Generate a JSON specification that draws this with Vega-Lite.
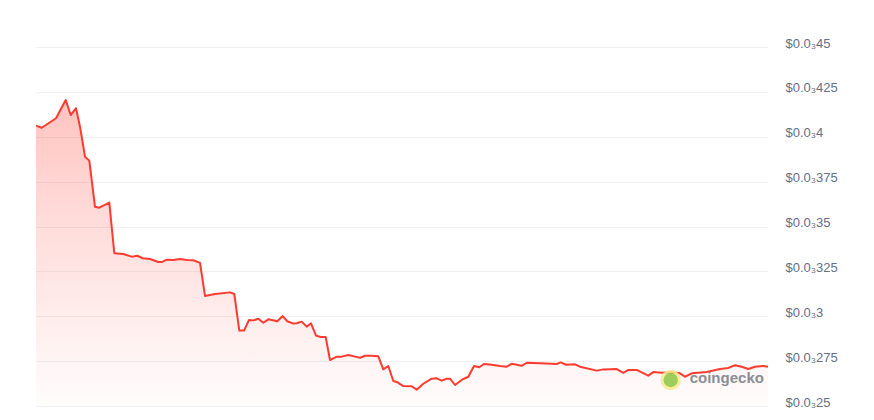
{
  "$schema": "https://vega.github.io/schema/vega-lite/v6.json",
  "width": 732,
  "height": 359,
  "autosize": {"type": "none"},
  "padding": {"left": 36, "top": 47, "right": 106, "bottom": 14},
  "background": "white",
  "config": {
    "view": {"stroke": null},
    "font": "Liberation Sans"
  },
  "datasets": {
    "price": [
      {"t": 0, "p": 0.0004062}, {"t": 5.7, "p": 0.000405}, {"t": 14, "p": 0.0004081},
      {"t": 20, "p": 0.0004103}, {"t": 29.7, "p": 0.0004205}, {"t": 34.7, "p": 0.0004121},
      {"t": 40, "p": 0.0004159}, {"t": 44, "p": 0.0004056}, {"t": 49, "p": 0.0003889},
      {"t": 53.3, "p": 0.0003867}, {"t": 59, "p": 0.000361}, {"t": 63.3, "p": 0.0003605},
      {"t": 73.3, "p": 0.0003633}, {"t": 78.3, "p": 0.0003351}, {"t": 87.3, "p": 0.0003347},
      {"t": 95.7, "p": 0.0003332}, {"t": 101.3, "p": 0.0003337}, {"t": 106.7, "p": 0.0003323},
      {"t": 114, "p": 0.0003319}, {"t": 122.3, "p": 0.0003302}, {"t": 125.7, "p": 0.0003302},
      {"t": 130.7, "p": 0.0003315}, {"t": 137.3, "p": 0.0003313}, {"t": 144, "p": 0.0003319},
      {"t": 150.7, "p": 0.0003313}, {"t": 157.3, "p": 0.0003312}, {"t": 164, "p": 0.0003297},
      {"t": 169, "p": 0.0003113}, {"t": 179, "p": 0.0003124}, {"t": 194, "p": 0.0003133},
      {"t": 198.3, "p": 0.0003124}, {"t": 203.3, "p": 0.000292}, {"t": 208, "p": 0.000292},
      {"t": 213, "p": 0.0002979}, {"t": 217.3, "p": 0.0002977}, {"t": 222.3, "p": 0.0002986},
      {"t": 227.3, "p": 0.0002964}, {"t": 232.3, "p": 0.0002983}, {"t": 241.3, "p": 0.0002972},
      {"t": 246.7, "p": 0.0003001}, {"t": 251.3, "p": 0.0002972}, {"t": 257.3, "p": 0.0002959},
      {"t": 260.7, "p": 0.0002961}, {"t": 265.7, "p": 0.000297}, {"t": 270.7, "p": 0.0002942},
      {"t": 275, "p": 0.0002961}, {"t": 280, "p": 0.0002892}, {"t": 284.7, "p": 0.0002884},
      {"t": 289.7, "p": 0.0002884}, {"t": 294, "p": 0.0002756}, {"t": 300.7, "p": 0.0002775},
      {"t": 305.7, "p": 0.0002775}, {"t": 312.3, "p": 0.0002784}, {"t": 319, "p": 0.0002775},
      {"t": 324, "p": 0.0002769}, {"t": 329, "p": 0.000278}, {"t": 335.7, "p": 0.000278},
      {"t": 342.3, "p": 0.0002777}, {"t": 347.3, "p": 0.0002704}, {"t": 352.3, "p": 0.0002723},
      {"t": 357.3, "p": 0.0002639}, {"t": 360.7, "p": 0.0002634}, {"t": 367.3, "p": 0.0002611},
      {"t": 375.7, "p": 0.000261}, {"t": 380.7, "p": 0.0002591}, {"t": 387.3, "p": 0.0002624},
      {"t": 395.7, "p": 0.0002652}, {"t": 400.7, "p": 0.0002654}, {"t": 405.7, "p": 0.0002641},
      {"t": 410.7, "p": 0.0002652}, {"t": 414, "p": 0.0002652}, {"t": 419, "p": 0.0002617},
      {"t": 425.7, "p": 0.0002645}, {"t": 432.3, "p": 0.0002663}, {"t": 438, "p": 0.0002723},
      {"t": 443.3, "p": 0.0002716}, {"t": 448, "p": 0.0002734}, {"t": 455.7, "p": 0.000273},
      {"t": 464, "p": 0.0002723}, {"t": 470.7, "p": 0.0002719}, {"t": 475.7, "p": 0.0002735},
      {"t": 485.7, "p": 0.0002724}, {"t": 490.7, "p": 0.0002741}, {"t": 504, "p": 0.0002738},
      {"t": 520.7, "p": 0.0002734}, {"t": 524.7, "p": 0.0002743}, {"t": 530, "p": 0.000273},
      {"t": 539, "p": 0.0002732}, {"t": 544, "p": 0.0002719}, {"t": 560.7, "p": 0.0002697},
      {"t": 567.3, "p": 0.0002704}, {"t": 580.7, "p": 0.0002706}, {"t": 587.3, "p": 0.0002685},
      {"t": 592.3, "p": 0.0002701}, {"t": 600.7, "p": 0.0002701}, {"t": 612.3, "p": 0.0002669},
      {"t": 617.3, "p": 0.0002689}, {"t": 625.7, "p": 0.0002685}, {"t": 637.3, "p": 0.0002688},
      {"t": 644, "p": 0.0002682}, {"t": 649, "p": 0.0002663}, {"t": 655.7, "p": 0.0002682},
      {"t": 670.7, "p": 0.0002689}, {"t": 684, "p": 0.0002706}, {"t": 692.3, "p": 0.0002712},
      {"t": 699, "p": 0.0002727}, {"t": 705.7, "p": 0.0002719}, {"t": 712.3, "p": 0.0002706},
      {"t": 719, "p": 0.0002719}, {"t": 727.3, "p": 0.0002723}, {"t": 732, "p": 0.0002719}
    ],
    "mark": [
      {"t": 634.7, "p": 0.0002645, "label": "coingecko"}
    ]
  },
  "encoding": {
    "x": {
      "field": "t",
      "type": "quantitative",
      "scale": {"domain": [0, 732], "nice": false},
      "axis": null
    },
    "y": {
      "field": "p",
      "type": "quantitative",
      "scale": {"domain": [0.00025, 0.00045], "nice": false, "zero": false},
      "axis": {
        "orient": "right",
        "title": null,
        "values": [0.00025, 0.000275, 0.0003, 0.000325, 0.00035, 0.000375, 0.0004, 0.000425, 0.00045],
        "labelExpr": "'$0.0₃' + replace(format(datum.value * 1000, '.4~f'), '0.', '')",
        "domain": false,
        "ticks": false,
        "grid": true,
        "gridColor": "#eef0f3",
        "gridWidth": 1,
        "labelPadding": 17,
        "labelOffset": -4,
        "labelColor": "#64708a",
        "labelFontSize": 13,
        "labelFont": "Liberation Sans"
      }
    }
  },
  "layer": [
    {
      "data": {"name": "price"},
      "mark": {
        "type": "area",
        "interpolate": "linear",
        "opacity": 1,
        "color": {
          "gradient": "linear",
          "x1": 1, "y1": 1, "x2": 1, "y2": 0,
          "stops": [
            {"offset": 0, "color": "rgba(255,59,48,0.01)"},
            {"offset": 0.5, "color": "rgba(255,59,48,0.15)"},
            {"offset": 1, "color": "rgba(255,59,48,0.3)"}
          ]
        }
      },
      "encoding": {"y2": {"datum": 0.00025}}
    },
    {
      "data": {"name": "price"},
      "mark": {"type": "line", "color": "#ff3b30", "strokeWidth": 2, "strokeJoin": "round"}
    },
    {
      "data": {"name": "mark"},
      "mark": {"type": "point", "filled": true, "fill": "#8cc63f", "stroke": "#f8ea8c", "strokeWidth": 3, "size": 300, "opacity": 0.85}
    },
    {
      "data": {"name": "mark"},
      "mark": {"type": "text", "align": "left", "baseline": "middle", "dx": 19, "dy": -2, "fontSize": 15, "fontWeight": "bold", "color": "#8b8e94", "font": "Liberation Sans"},
      "encoding": {"text": {"field": "label"}}
    }
  ]
}
